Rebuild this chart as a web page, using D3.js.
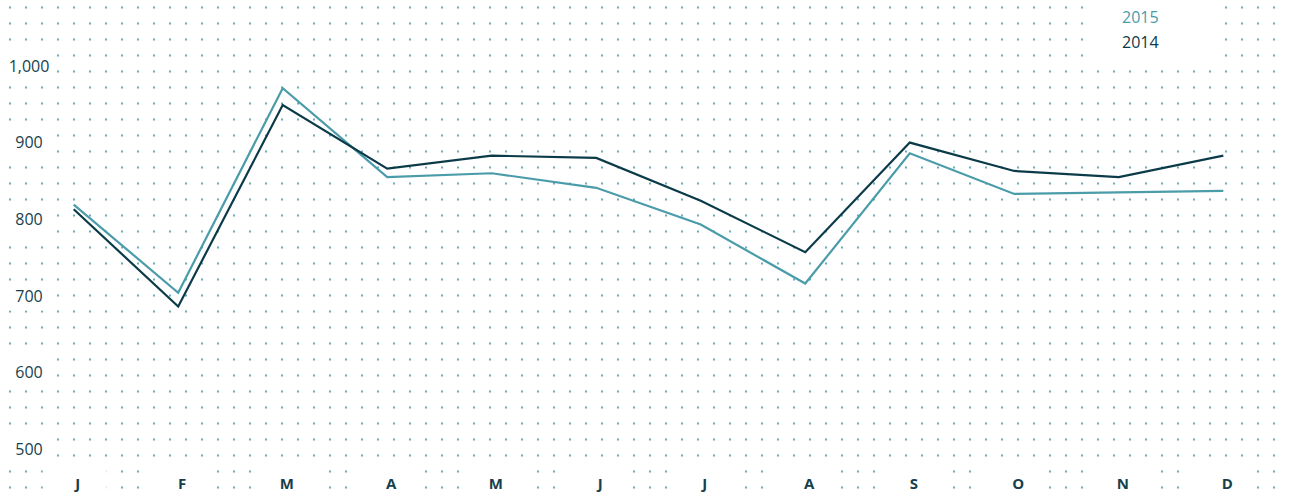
<!DOCTYPE html>
<html>
<head>
<meta charset="utf-8">
<script src="https://cdn.jsdelivr.net/npm/d3@7"></script>
<style>
  body { margin: 0; background: #fff; }
  svg { display: block; }
</style>
</head>
<body>
<svg id="chart"></svg>
<script>
// data
var months = ["J", "F", "M", "A", "M", "J", "J", "A", "S", "O", "N", "D"];
var values2015 = [819, 704, 971, 855, 860, 841, 793, 716, 886, 833, 835, 837];
var values2014 = [813, 686, 949, 866, 883, 880, 824, 757, 900, 863, 855, 883];
var yTicks = [500, 600, 700, 800, 900, 1000];
var seriesNames = ["2015", "2014"];

var width = 1289;
var height = 492;

var light = "#4a9ca9";
var dark = "#0b3b48";
var textColor = "#173f4c";

var svg = d3.select("#chart")
    .attr("width", width)
    .attr("height", height);

var x = d3.scalePoint()
    .domain(d3.range(months.length))
    .range([73.7, 1223.3]);

var y = d3.scaleLinear()
    .domain([500, 1000])
    .range([449, 66]);

// dotted background
var dotX = d3.range(9, width, 16);
var dotY = d3.range(6.5, height, 16);
var dots = svg.append("g");
dotY.forEach(function (yy) {
    dots.selectAll(null)
        .data(dotX)
        .enter().append("rect")
        .attr("x", function (d) { return d; })
        .attr("y", yy)
        .attr("width", 2)
        .attr("height", 2)
        .attr("fill", "#6aabb7");
});

// white patches behind labels
svg.append("g").selectAll("rect")
    .data(yTicks)
    .enter().append("rect")
    .attr("x", 0)
    .attr("y", function (d) { return y(d) - 14.5; })
    .attr("width", 52)
    .attr("height", 29)
    .attr("fill", "#fff");

svg.append("g").selectAll("rect")
    .data(months)
    .enter().append("rect")
    .attr("x", function (d, i) { return x(i) - 31; })
    .attr("y", 465)
    .attr("width", 64)
    .attr("height", 30)
    .attr("fill", "#fff");

// legend box
svg.append("rect")
    .attr("x", 1085)
    .attr("y", 0)
    .attr("width", 132)
    .attr("height", 64)
    .attr("fill", "#fff");

// lines
var line = d3.line()
    .x(function (d, i) { return x(i); })
    .y(function (d) { return y(d); });

svg.append("path")
    .datum(values2015)
    .attr("d", line)
    .attr("fill", "none")
    .attr("stroke", light)
    .attr("stroke-width", 2.2)
    .attr("stroke-linejoin", "miter");

svg.append("path")
    .datum(values2014)
    .attr("d", line)
    .attr("fill", "none")
    .attr("stroke", dark)
    .attr("stroke-width", 2.2)
    .attr("stroke-linejoin", "miter");

// y labels
svg.append("g").selectAll("text")
    .data(yTicks)
    .enter().append("text")
    .attr("x", 29)
    .attr("y", function (d) { return y(d); })
    .attr("dy", "0.36em")
    .attr("text-anchor", "middle")
    .attr("font-family", "'Open Sans', sans-serif")
    .attr("font-size", 16)
    .attr("fill", textColor)
    .text(function (d) { return d3.format(",")(d); });

// x labels
svg.append("g").selectAll("text")
    .data(months)
    .enter().append("text")
    .attr("x", function (d, i) { return x(i) + 4; })
    .attr("y", 489)
    .attr("text-anchor", "middle")
    .attr("font-family", "'Open Sans', sans-serif")
    .attr("font-weight", "bold")
    .attr("font-size", 15)
    .attr("fill", textColor)
    .text(function (d) { return d; });

// legend
svg.append("g").selectAll("text")
    .data(seriesNames)
    .enter().append("text")
    .attr("x", 1122)
    .attr("y", function (d, i) { return 17 + i * 25; })
    .attr("dy", "0.36em")
    .attr("font-family", "'Open Sans', sans-serif")
    .attr("font-size", 16)
    .attr("fill", function (d, i) { return i === 0 ? light : dark; })
    .text(function (d) { return d; });
</script>
</body>
</html>
